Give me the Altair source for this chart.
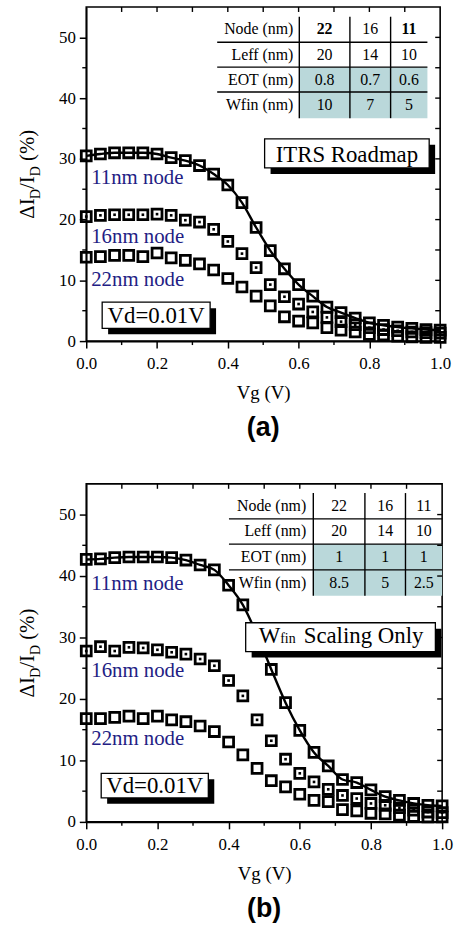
import altair as alt
import pandas as pd

# ---------------- data ----------------
vg = [0.00, 0.04, 0.08, 0.12, 0.16, 0.20, 0.24, 0.28, 0.32, 0.36, 0.40, 0.44, 0.48,
      0.52, 0.56, 0.60, 0.64, 0.68, 0.72, 0.76, 0.80, 0.84, 0.88, 0.92, 0.96, 1.00]

# panel (a) ITRS roadmap
a_11 = [30.5, 30.8, 31.0, 31.0, 31.0, 30.8, 30.2, 29.7, 28.9, 27.5, 25.7, 22.8, 18.7,
        14.9, 11.9, 9.3, 7.4, 5.6, 4.7, 3.8, 3.0, 2.6, 2.3, 2.1, 1.9, 1.8]
a_16 = [20.5, 20.7, 20.8, 20.8, 20.8, 20.9, 20.7, 19.9, 19.6, 18.4, 16.4, 14.4, 12.1,
        9.3, 7.3, 6.1, 4.8, 3.9, 3.2, 2.7, 2.2, 1.9, 1.7, 1.5, 1.4, 1.3]
a_22 = [13.8, 13.9, 14.1, 14.1, 13.9, 14.5, 13.7, 13.3, 12.7, 11.7, 10.3, 8.9, 7.4,
        5.8, 4.0, 3.3, 3.0, 2.2, 1.8, 1.5, 1.1, 1.0, 0.8, 0.7, 0.6, 0.6]

# panel (b) Wfin scaling only
b_11 = [42.7, 42.8, 43.0, 43.1, 43.1, 43.1, 43.0, 42.6, 41.8, 41.0, 38.5, 35.3, 30.4,
        24.8, 19.4, 14.9, 11.3, 9.1, 6.9, 6.4, 5.2, 4.1, 3.5, 3.0, 2.7, 2.6]
b_16 = [27.8, 28.5, 27.8, 28.4, 28.3, 28.0, 27.6, 27.3, 26.5, 25.4, 23.0, 20.5, 16.6,
        13.2, 10.2, 7.9, 6.5, 5.3, 4.3, 3.8, 3.0, 2.7, 2.3, 1.9, 1.6, 1.5]
b_22 = [16.8, 16.8, 17.0, 17.2, 16.8, 17.2, 16.6, 16.3, 15.6, 14.7, 13.0, 10.9, 8.7,
        6.7, 5.7, 4.5, 3.5, 3.3, 2.0, 1.8, 1.4, 1.3, 1.1, 0.9, 0.8, 0.8]

series_labels = ["11nm node", "16nm node", "22nm node"]

table_labels = ["Node (nm)", "Leff (nm)", "EOT (nm)", "Wfin (nm)"]
table_a = [["22", "16", "11"], ["20", "14", "10"], ["0.8", "0.7", "0.6"], ["10", "7", "5"]]
table_b = [["22", "16", "11"], ["20", "14", "10"], ["1", "1", "1"], ["8.5", "5", "2.5"]]

x_major = [0.0, 0.2, 0.4, 0.6, 0.8, 1.0]
x_minor = [0.1, 0.3, 0.5, 0.7, 0.9]
y_major = [0, 10, 20, 30, 40, 50]
y_minor = [5, 15, 25, 35, 45]

SERIF = "Liberation Serif"
NAVY = "#231d84"
TEAL = "#bad8da"


def panel(s11, s16, s22, lab_y, tvals, tab, box, vd, box_kind, tag, W, H):
    xs = alt.Scale(domain=[0, 1], nice=False, zero=False)
    ys = alt.Scale(domain=[0, 55], nice=False)
    xaxis = alt.Axis(values=x_major, format=".1f", title="Vg (V)", tickSize=7,
                     labelPadding=8, titlePadding=12, labelFlush=False)
    yaxis = alt.Axis(values=y_major, title=None, tickSize=7, labelPadding=4)

    def X(f):
        return alt.X(f, type="quantitative", scale=xs, axis=xaxis)

    def Y(f):
        return alt.Y(f, type="quantitative", scale=ys, axis=yaxis)

    df = pd.DataFrame({"vg": vg * 3, "val": s11 + s16 + s22,
                       "series": ["11"] * len(vg) + ["16"] * len(vg) + ["22"] * len(vg)})
    d11 = pd.DataFrame({"vg": vg, "val": s11})
    d16 = pd.DataFrame({"vg": vg, "val": s16})

    layers = []
    layers.append(alt.Chart(d11).mark_line(color="black", strokeWidth=2.4, interpolate="monotone")
                  .encode(x=X("vg"), y=Y("val")))
    layers.append(alt.Chart(df).mark_point(shape="square", filled=False, color="black",
                                           strokeWidth=2.8, size=100, opacity=1)
                  .encode(x=X("vg"), y=Y("val")))
    layers.append(alt.Chart(d16).mark_point(shape="square", filled=True, color="black",
                                            size=7, opacity=1)
                  .encode(x=X("vg"), y=Y("val")))

    # series labels
    ldf = pd.DataFrame({"vg": [0.014] * 3, "val": lab_y, "t": series_labels})
    layers.append(alt.Chart(ldf).mark_text(align="left", baseline="middle", font=SERIF,
                                           fontSize=21, color=NAVY)
                  .encode(x=X("vg"), y=Y("val"), text="t"))

    # table
    left, c1, c2, c3, right, lab_r = tab["x"]
    rows = tab["y"]  # 5 boundaries top->bottom
    teal = pd.DataFrame({"x0": [c1], "x1": [right], "y0": [rows[2]], "y1": [rows[4]]})
    layers.append(alt.Chart(teal).mark_rect(color=TEAL)
                  .encode(x=X("x0"), x2="x1", y=Y("y0"), y2="y1"))
    hl = pd.DataFrame({"x0": [left] * 3, "x1": [right] * 3, "y0": rows[1:4]})
    layers.append(alt.Chart(hl).mark_rule(color="black", strokeWidth=1.4)
                  .encode(x=X("x0"), x2="x1", y=Y("y0")))
    vl = pd.DataFrame({"x0": [c1, c2, c3], "y0": [rows[0]] * 3, "y1": [rows[4]] * 3})
    layers.append(alt.Chart(vl).mark_rule(color="black", strokeWidth=1.4)
                  .encode(x=X("x0"), y=Y("y0"), y2="y1"))
    centers = [(rows[i] + rows[i + 1]) / 2 for i in range(4)]
    tl = pd.DataFrame({"x0": [lab_r] * 4, "y0": centers, "t": table_labels})
    layers.append(alt.Chart(tl).mark_text(align="right", baseline="middle", font=SERIF,
                                          fontSize=16, color="black")
                  .encode(x=X("x0"), y=Y("y0"), text="t"))
    colc = [(c1 + c2) / 2, (c2 + c3) / 2, (c3 + right) / 2]
    cells = []
    for i in range(4):
        for j in range(3):
            bold = tag == "(a)" and i == 0 and j in (0, 2)
            cells.append({"x0": colc[j], "y0": centers[i], "t": tvals[i][j],
                          "w": "bold" if bold else "normal"})
    cdf = pd.DataFrame(cells)
    layers.append(alt.Chart(cdf[cdf.w == "normal"]).mark_text(align="center", baseline="middle",
                                                             font=SERIF, fontSize=16, color="black")
                  .encode(x=X("x0"), y=Y("y0"), text="t"))
    if (cdf.w == "bold").any():
        layers.append(alt.Chart(cdf[cdf.w == "bold"]).mark_text(align="center", baseline="middle",
                                                               font=SERIF, fontSize=16,
                                                               fontWeight="bold", color="black")
                      .encode(x=X("x0"), y=Y("y0"), text="t"))

    # boxes with shadow
    def framed(bx, txt_layers):
        bdf = pd.DataFrame({"x0": [bx[0]], "x1": [bx[1]], "y0": [bx[2]], "y1": [bx[3]]})
        out = [
            alt.Chart(bdf).mark_rect(color="black", xOffset=6, x2Offset=6, yOffset=6, y2Offset=6)
            .encode(x=X("x0"), x2="x1", y=Y("y0"), y2="y1"),
            alt.Chart(bdf).mark_rect(fill="white", stroke="black", strokeWidth=1.3)
            .encode(x=X("x0"), x2="x1", y=Y("y0"), y2="y1"),
        ]
        return out + txt_layers

    def txt(xv, yv, t, size, align="center", baseline="middle"):
        d = pd.DataFrame({"x0": [xv], "y0": [yv], "t": [t]})
        return (alt.Chart(d).mark_text(align=align, baseline=baseline, font=SERIF,
                                       fontSize=size, color="black")
                .encode(x=X("x0"), y=Y("y0"), text="t"))

    if box_kind == "itrs":
        layers += framed(box, [txt((box[0] + box[1]) / 2, (box[2] + box[3]) / 2 - 0.2,
                                   "ITRS Roadmap", 23)])
    else:
        base = box[2] + 1.45
        layers += framed(box, [txt(box[0] + 0.037, base, "W", 23, "left", "alphabetic"),
                               txt(box[0] + 0.097, base, "fin", 14, "left", "alphabetic"),
                               txt(box[0] + 0.163, base, "Scaling Only", 23, "left", "alphabetic")])
    layers += framed(vd, [txt((vd[0] + vd[1]) / 2, (vd[2] + vd[3]) / 2 - 0.1, "Vd=0.01V", 23)])

    # minor / mirrored ticks
    layers.append(alt.Chart(pd.DataFrame({"x0": x_minor})).mark_rule(color="black", strokeWidth=1.4)
                  .encode(x=X("x0"), y=alt.value(H), y2=alt.value(H + 4)))
    layers.append(alt.Chart(pd.DataFrame({"y0": y_minor})).mark_rule(color="black", strokeWidth=1.4)
                  .encode(y=Y("y0"), x=alt.value(0), x2=alt.value(-4)))
    layers.append(alt.Chart(pd.DataFrame({"x0": x_major[1:-1] + x_minor})).mark_rule(color="black", strokeWidth=1.4)
                  .encode(x=X("x0"), y=alt.value(0), y2=alt.value(5)))
    layers.append(alt.Chart(pd.DataFrame({"y0": y_major[1:] + y_minor})).mark_rule(color="black", strokeWidth=1.4)
                  .encode(y=Y("y0"), x=alt.value(W), x2=alt.value(W - 5)))

    # y title with subscripts (rotated)
    segs = [("ΔI", 21, 0, 0.945), ("D", 14, 6, 0.722), ("/I", 21, 0, 0.611),
            ("D", 14, 6, 0.722), ("(%)", 21, 0, 1.499)]
    ystart = H / 2 + 45
    pos = ystart
    for k, (t, fs, dx, em) in enumerate(segs):
        if t == "(%)":
            pos -= 0.25 * 21
        layers.append(alt.Chart(pd.DataFrame({"t": [t]})).mark_text(
            angle=270, align="left", baseline="alphabetic", font=SERIF, fontSize=fs, color="black")
            .encode(text="t", x=alt.value(-53 + dx), y=alt.value(pos)))
        pos -= em * fs

    return alt.layer(*layers).properties(
        width=W, height=H,
        title=alt.TitleParams(tag, orient="bottom", font="Liberation Sans", fontSize=27,
                              fontWeight="bold", offset=13, anchor="middle", frame="group",
                              color="black"))


pa = panel(a_11, a_16, a_22, [26.9, 17.2, 10.0], table_a,
           {"x": [0.370, 0.602, 0.745, 0.860, 0.964, 0.585], "y": [53.4, 49.2, 45.1, 41.0, 36.7]},
           [0.504, 0.969, 28.5, 33.3], [0.045, 0.350, 2.1, 6.4], "itrs", "(a)", 357, 337)
pb = panel(b_11, b_16, b_22, [38.7, 24.5, 13.5], table_b,
           {"x": [0.401, 0.638, 0.783, 0.897, 1.0, 0.618], "y": [53.5, 49.3, 45.2, 41.0, 36.8]},
           [0.448, 0.981, 27.7, 32.4], [0.042, 0.343, 3.9, 7.9], "wfin", "(b)", 359, 341)

chart = (alt.vconcat(pa, pb, spacing=40)
         .properties(padding={"left": 16, "top": 1, "right": 4, "bottom": 4})
         .configure_view(stroke="black", strokeWidth=1.6)
         .configure_axis(labelFont=SERIF, labelFontSize=17, titleFont=SERIF, titleFontSize=19,
                         titleFontWeight="normal", domainColor="black", tickColor="black",
                         labelColor="black", titleColor="black", domainWidth=1.6, tickWidth=1.5,
                         grid=False))

chart.save("out.html", embed_options={"renderer": "svg", "actions": False})
